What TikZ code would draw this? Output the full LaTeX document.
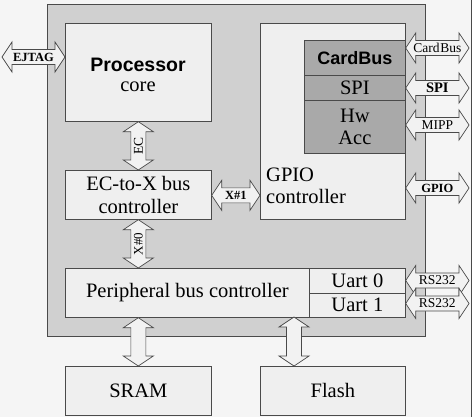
\documentclass[tikz,border=0pt]{standalone}
\usepackage{fontspec}
\setmainfont{Liberation Serif}
\newfontfamily\arialf{Liberation Sans}
\usetikzlibrary{calc}
\definecolor{bgc}{HTML}{F5F5F5}
\definecolor{outerc}{HTML}{D0D0D0}
\definecolor{boxc}{HTML}{EFEFEF}
\definecolor{darkc}{HTML}{A9A9A9}
\definecolor{linec}{HTML}{4A4A4A}
\definecolor{arrc}{HTML}{F2F2F2}
\newcommand\fsz[1]{\fontsize{#1}{#1}\selectfont}
% horizontal double block arrow: start point #1, end x from #2, label #3, name #4, label style #5
\newcommand\harr[5]{%
\path let \p1=#1, \p2=#2 in [draw=linec, fill=arrc, line width=0.7pt, line join=miter]
 (\x1,\y1) -- ({\x1+10pt},{\y1+15pt}) -- ({\x1+10pt},{\y1+7.5pt}) -- ({\x2-10pt},{\y1+7.5pt})
 -- ({\x2-10pt},{\y1+15pt}) -- (\x2,\y1) -- ({\x2-10pt},{\y1-15pt}) -- ({\x2-10pt},{\y1-7.5pt})
 -- ({\x1+10pt},{\y1-7.5pt}) -- ({\x1+10pt},{\y1-15pt}) -- cycle
 ({(\x1+\x2)/2},\y1) node[arrlabel,#5] (#4) {#3};}
% vertical double block arrow: start (top) #1, end y from #2
\newcommand\varr[5]{%
\path let \p1=#1, \p2=#2 in [draw=linec, fill=arrc, line width=0.7pt, line join=miter]
 (\x1,\y1) -- ({\x1-15pt},{\y1-10pt}) -- ({\x1-7.5pt},{\y1-10pt}) -- ({\x1-7.5pt},{\y2+10pt})
 -- ({\x1-15pt},{\y2+10pt}) -- (\x1,\y2) -- ({\x1+15pt},{\y2+10pt}) -- ({\x1+7.5pt},{\y2+10pt})
 -- ({\x1+7.5pt},{\y1-10pt}) -- ({\x1+15pt},{\y1-10pt}) -- cycle
 (\x1,{(\y1+\y2)/2}) node[arrlabel,rotate=90,#5] (#4) {#3};}
\tikzset{
  box/.style={draw=linec, fill=boxc, line width=0.7pt, inner sep=0pt, anchor=north west, align=center},
  dbox/.style={box, fill=darkc},
  arrlabel/.style={inner sep=0pt, font=\bfseries\fsz{12.5}},
  serif/.style={font=\fsz{20.5}},
}
\begin{document}
\begin{tikzpicture}[x=1pt,y=-1pt]
\fill[bgc] (0,0) rectangle (471,417);
\fill[white] (471,0) rectangle (474,417);
\useasboundingbox (0,0) rectangle (474,417);
\draw[linec, line width=0.8pt] (471.5,0) -- (471.5,417);
% outer chip
\node[box, fill=outerc, line width=0.8pt, minimum width=378pt, minimum height=332pt] (chip) at (47,4) {};
% blocks
\node[box, minimum width=146pt, minimum height=98pt] (proc) at (65,23) {};
\node[inner sep=0pt, font=\arialf\bfseries\fsz{19.5}] (proct) at (138,65) {Processor};
\node[inner sep=0pt, font=\fsz{20.5}] (coret) at (138,87) {core};
\node[box, serif, minimum width=146pt, minimum height=49pt] (ectox) at (65,170)
  {EC-to-X bus\\[2pt]controller};
\node[box, serif, minimum width=244pt, minimum height=49pt] (periph) at (65,268)
  {Peripheral bus controller};
\node[box, serif, minimum width=96pt, minimum height=24.5pt] (uart0) at (309,268) {Uart 0};
\node[box, serif, minimum width=96pt, minimum height=24.5pt] (uart1) at (309,292.5) {Uart 1};
\node[box, serif, minimum width=146pt, minimum height=49pt] (sram) at (65,366) {SRAM};
\node[box, serif, minimum width=145pt, minimum height=49pt] (flash) at (260,366) {Flash};
\node[box, minimum width=145pt, minimum height=196pt] (gpio) at (260,23) {};
\node[anchor=west, align=left, inner sep=0pt, font=\fsz{20.5}] (gpiot) at (266,186)
  {GPIO\\[2pt]controller};
\node[dbox, minimum width=101pt, minimum height=35pt, font=\arialf\bfseries\fsz{18}] (cardbus) at (304,40) {CardBus};
\node[dbox, serif, minimum width=101pt, minimum height=25pt] (spi) at (304,75) {SPI};
\node[dbox, serif, minimum width=101pt, minimum height=53pt] (hwacc) at (304,100) {Hw\\[2pt]Acc};
% connectors
\coordinate (ejl) at (2,57);
\harr{(ejl)}{(proc.west)}{EJTAG}{ejtag}{}
\varr{(proc.south)}{(ectox.north)}{EC}{ec}{font=\fsz{13.5}}
\varr{(ectox.south)}{(periph.north)}{X\#0}{x0}{font=\fsz{13}}
\harr{($(ectox.east)+(0,0.5)$)}{(gpio.west)}{X\#1}{x1}{}
\varr{(sram.north |- periph.south)}{(sram.north)}{}{sramarr}{}
\coordinate (flx) at (294,317);
\varr{(flx)}{(flash.north)}{}{flarr}{}
\coordinate (ecb) at (469,48);
\coordinate (espi) at (469,88);
\coordinate (emipp) at (469,125);
\coordinate (egpio) at (469,188);
\coordinate (ers0) at (469,280.5);
\coordinate (ers1) at (469,303.5);
\harr{(cardbus.east |- ecb)}{(ecb)}{Card\kern0.8pt Bus}{cbarr}{font=\fsz{13.5}}
\harr{(spi.east |- espi)}{(espi)}{SPI}{spiarr}{font=\bfseries\fsz{14.5}}
\harr{(hwacc.east |- emipp)}{(emipp)}{MIPP}{mipparr}{font=\fsz{13.5}}
\harr{(gpio.east |- egpio)}{(egpio)}{GPIO}{gpioarr}{}
\harr{(uart0.east |- ers0)}{(ers0)}{RS232}{rs0}{font=\fsz{13.5}}
\harr{(uart1.east |- ers1)}{(ers1)}{RS232}{rs1}{font=\fsz{13.5}}
\end{tikzpicture}
\end{document}
